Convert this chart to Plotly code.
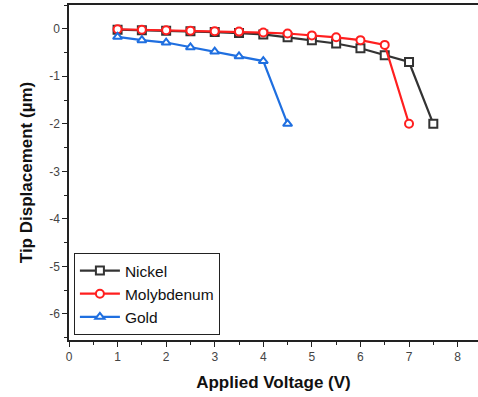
import plotly.graph_objects as go

nickel_v = [1, 1.5, 2, 2.5, 3, 3.5, 4, 4.5, 5, 5.5, 6, 6.5, 7, 7.5]
nickel_d = [-0.02, -0.03, -0.04, -0.05, -0.07, -0.09, -0.12, -0.18, -0.24, -0.31, -0.41, -0.56, -0.70, -2.0]
moly_v = [1, 1.5, 2, 2.5, 3, 3.5, 4, 4.5, 5, 5.5, 6, 6.5, 7]
moly_d = [-0.01, -0.02, -0.03, -0.04, -0.05, -0.06, -0.08, -0.10, -0.14, -0.18, -0.24, -0.34, -2.0]
gold_v = [1, 1.5, 2, 2.5, 3, 3.5, 4, 4.5]
gold_d = [-0.17, -0.24, -0.29, -0.39, -0.48, -0.58, -0.68, -2.0]

x_ticks = [0, 1, 2, 3, 4, 5, 6, 7, 8]
y_ticks = [0, -1, -2, -3, -4, -5, -6]
y_tick_text = ["0", "-1", "-2", "-3", "-4", "-5", "-6"]

series = [
    ("Nickel", nickel_v, nickel_d, "#333333", "square"),
    ("Molybdenum", moly_v, moly_d, "#ff1f1f", "circle"),
    ("Gold", gold_v, gold_d, "#1f6fe0", "triangle-up"),
]

fig = go.Figure()
for name, xs, ys, col, sym in series:
    fig.add_trace(go.Scatter(
        x=xs, y=ys, name=name, mode="lines+markers",
        line=dict(color=col, width=2.2),
        marker=dict(symbol=sym, size=8, color="white", line=dict(color=col, width=2)),
    ))

axis_font = dict(family="Arial, Liberation Sans, sans-serif", size=12, color="#444444")
fig.update_layout(
    width=478, height=397,
    margin=dict(l=69, r=0, t=5, b=57),
    paper_bgcolor="white", plot_bgcolor="white",
    font=dict(family="Arial, Liberation Sans, sans-serif", color="#111111"),
    legend=dict(
        x=0.012, y=0.015, xanchor="left", yanchor="bottom",
        bgcolor="white", bordercolor="#222222", borderwidth=1,
        font=dict(size=15.5, color="#111111"), itemwidth=40, tracegroupgap=0,
    ),
    showlegend=True,
)
fig.update_xaxes(
    range=[0, 8.42], tickvals=x_ticks,
    showgrid=False, zeroline=False,
    showline=True, linecolor="#222222", linewidth=1.5, mirror=True,
    ticks="outside", ticklen=5, tickcolor="#222222",
    minor=dict(dtick=0.5, ticks="outside", ticklen=3, tickcolor="#222222"),
    tickfont=axis_font,
    title=dict(text="<b>Applied Voltage (V)</b>", font=dict(size=17, color="#111111"), standoff=13),
)
fig.update_yaxes(
    range=[-6.55, 0.5], tickvals=y_ticks, ticktext=y_tick_text,
    showgrid=False, zeroline=False,
    showline=True, linecolor="#222222", linewidth=1.5,
    ticks="outside", ticklen=5, tickcolor="#222222",
    minor=dict(dtick=0.5, ticks="outside", ticklen=3, tickcolor="#222222"),
    tickfont=axis_font,
    title=dict(text="<b>Tip Displacement (µm)</b>", font=dict(size=17, color="#111111"), standoff=12),
)

fig.write_html("out.html")
